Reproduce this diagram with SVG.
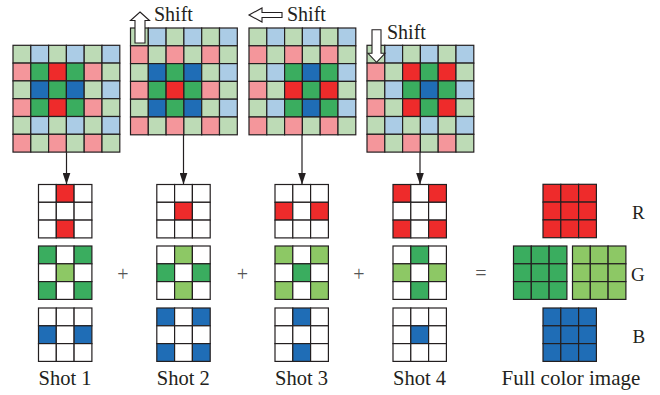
<svg xmlns="http://www.w3.org/2000/svg" xmlns:xlink="http://www.w3.org/1999/xlink" width="660" height="395" viewBox="0 0 660 395">
<style>
use{stroke:#231f20;stroke-width:1.2}
.a{fill:#bddbb6}.b{fill:#abcce6}.r{fill:#f4969b}
.G{fill:#3aad5f}.R{fill:#ee2b2b}.B{fill:#1f6db6}.L{fill:#8dc865}.w{fill:#ffffff}
.t{font-family:"Liberation Serif","Times New Roman",serif;fill:#231f20}
.op{font-family:"Liberation Serif","Times New Roman",serif;fill:#555555;font-size:20px;text-anchor:middle}
.sa{fill:#ffffff;stroke:#231f20;stroke-width:1.1}
.con line{stroke:#231f20;stroke-width:1.2;marker-end:url(#ah)}
</style>
<defs>
<rect id="c" width="17.8" height="17.8"/>
<marker id="ah" markerUnits="userSpaceOnUse" markerWidth="12" markerHeight="8" refX="12" refY="4" orient="auto"><path d="M0,0 L12,4 L0,8 z" fill="#231f20"/></marker>
</defs>
<rect width="660" height="395" fill="#ffffff"/>

<!-- Sensor grid 1 -->
<g id="sensor1" transform="translate(13,45.3)">
<use href="#c" x="0" y="0" class="a"/><use href="#c" x="17.8" y="0" class="b"/><use href="#c" x="35.6" y="0" class="a"/><use href="#c" x="53.4" y="0" class="b"/><use href="#c" x="71.2" y="0" class="a"/><use href="#c" x="89" y="0" class="b"/>
<use href="#c" x="0" y="17.8" class="r"/><use href="#c" x="17.8" y="17.8" class="G"/><use href="#c" x="35.6" y="17.8" class="R"/><use href="#c" x="53.4" y="17.8" class="G"/><use href="#c" x="71.2" y="17.8" class="r"/><use href="#c" x="89" y="17.8" class="a"/>
<use href="#c" x="0" y="35.6" class="a"/><use href="#c" x="17.8" y="35.6" class="B"/><use href="#c" x="35.6" y="35.6" class="G"/><use href="#c" x="53.4" y="35.6" class="B"/><use href="#c" x="71.2" y="35.6" class="a"/><use href="#c" x="89" y="35.6" class="b"/>
<use href="#c" x="0" y="53.4" class="r"/><use href="#c" x="17.8" y="53.4" class="G"/><use href="#c" x="35.6" y="53.4" class="R"/><use href="#c" x="53.4" y="53.4" class="G"/><use href="#c" x="71.2" y="53.4" class="r"/><use href="#c" x="89" y="53.4" class="a"/>
<use href="#c" x="0" y="71.2" class="a"/><use href="#c" x="17.8" y="71.2" class="b"/><use href="#c" x="35.6" y="71.2" class="a"/><use href="#c" x="53.4" y="71.2" class="b"/><use href="#c" x="71.2" y="71.2" class="a"/><use href="#c" x="89" y="71.2" class="b"/>
<use href="#c" x="0" y="89" class="r"/><use href="#c" x="17.8" y="89" class="a"/><use href="#c" x="35.6" y="89" class="r"/><use href="#c" x="53.4" y="89" class="a"/><use href="#c" x="71.2" y="89" class="r"/><use href="#c" x="89" y="89" class="a"/>
</g>

<!-- Sensor grid 2 -->
<g id="sensor2" transform="translate(130.5,28)">
<use href="#c" x="0" y="0" class="a"/><use href="#c" x="17.8" y="0" class="b"/><use href="#c" x="35.6" y="0" class="a"/><use href="#c" x="53.4" y="0" class="b"/><use href="#c" x="71.2" y="0" class="a"/><use href="#c" x="89" y="0" class="b"/>
<use href="#c" x="0" y="17.8" class="r"/><use href="#c" x="17.8" y="17.8" class="a"/><use href="#c" x="35.6" y="17.8" class="r"/><use href="#c" x="53.4" y="17.8" class="a"/><use href="#c" x="71.2" y="17.8" class="r"/><use href="#c" x="89" y="17.8" class="a"/>
<use href="#c" x="0" y="35.6" class="a"/><use href="#c" x="17.8" y="35.6" class="B"/><use href="#c" x="35.6" y="35.6" class="G"/><use href="#c" x="53.4" y="35.6" class="B"/><use href="#c" x="71.2" y="35.6" class="a"/><use href="#c" x="89" y="35.6" class="b"/>
<use href="#c" x="0" y="53.4" class="r"/><use href="#c" x="17.8" y="53.4" class="G"/><use href="#c" x="35.6" y="53.4" class="R"/><use href="#c" x="53.4" y="53.4" class="G"/><use href="#c" x="71.2" y="53.4" class="r"/><use href="#c" x="89" y="53.4" class="a"/>
<use href="#c" x="0" y="71.2" class="a"/><use href="#c" x="17.8" y="71.2" class="B"/><use href="#c" x="35.6" y="71.2" class="G"/><use href="#c" x="53.4" y="71.2" class="B"/><use href="#c" x="71.2" y="71.2" class="a"/><use href="#c" x="89" y="71.2" class="b"/>
<use href="#c" x="0" y="89" class="r"/><use href="#c" x="17.8" y="89" class="a"/><use href="#c" x="35.6" y="89" class="r"/><use href="#c" x="53.4" y="89" class="a"/><use href="#c" x="71.2" y="89" class="r"/><use href="#c" x="89" y="89" class="a"/>
<polygon class="sa" points="9.5,-16 19,-7.5 14.5,-7.5 14.5,15 4.5,15 4.5,-7.5 0,-7.5"/>
<text class="t" x="23.5" y="-7" font-size="20">Shift</text>
</g>

<!-- Sensor grid 3 -->
<g id="sensor3" transform="translate(249,28)">
<use href="#c" x="0" y="0" class="a"/><use href="#c" x="17.8" y="0" class="b"/><use href="#c" x="35.6" y="0" class="a"/><use href="#c" x="53.4" y="0" class="b"/><use href="#c" x="71.2" y="0" class="a"/><use href="#c" x="89" y="0" class="b"/>
<use href="#c" x="0" y="17.8" class="r"/><use href="#c" x="17.8" y="17.8" class="a"/><use href="#c" x="35.6" y="17.8" class="r"/><use href="#c" x="53.4" y="17.8" class="a"/><use href="#c" x="71.2" y="17.8" class="r"/><use href="#c" x="89" y="17.8" class="a"/>
<use href="#c" x="0" y="35.6" class="a"/><use href="#c" x="17.8" y="35.6" class="b"/><use href="#c" x="35.6" y="35.6" class="G"/><use href="#c" x="53.4" y="35.6" class="B"/><use href="#c" x="71.2" y="35.6" class="G"/><use href="#c" x="89" y="35.6" class="b"/>
<use href="#c" x="0" y="53.4" class="r"/><use href="#c" x="17.8" y="53.4" class="a"/><use href="#c" x="35.6" y="53.4" class="R"/><use href="#c" x="53.4" y="53.4" class="G"/><use href="#c" x="71.2" y="53.4" class="R"/><use href="#c" x="89" y="53.4" class="a"/>
<use href="#c" x="0" y="71.2" class="a"/><use href="#c" x="17.8" y="71.2" class="b"/><use href="#c" x="35.6" y="71.2" class="G"/><use href="#c" x="53.4" y="71.2" class="B"/><use href="#c" x="71.2" y="71.2" class="G"/><use href="#c" x="89" y="71.2" class="b"/>
<use href="#c" x="0" y="89" class="r"/><use href="#c" x="17.8" y="89" class="a"/><use href="#c" x="35.6" y="89" class="r"/><use href="#c" x="53.4" y="89" class="a"/><use href="#c" x="71.2" y="89" class="r"/><use href="#c" x="89" y="89" class="a"/>
<polygon class="sa" points="0,-13 13,-20 13,-15.5 33,-15.5 33,-10.5 13,-10.5 13,-6"/>
<text class="t" x="38" y="-7" font-size="20">Shift</text>
</g>

<!-- Sensor grid 4 -->
<g id="sensor4" transform="translate(367,45.3)">
<use href="#c" x="0" y="0" class="a"/><use href="#c" x="17.8" y="0" class="b"/><use href="#c" x="35.6" y="0" class="a"/><use href="#c" x="53.4" y="0" class="b"/><use href="#c" x="71.2" y="0" class="a"/><use href="#c" x="89" y="0" class="b"/>
<use href="#c" x="0" y="17.8" class="r"/><use href="#c" x="17.8" y="17.8" class="a"/><use href="#c" x="35.6" y="17.8" class="R"/><use href="#c" x="53.4" y="17.8" class="G"/><use href="#c" x="71.2" y="17.8" class="R"/><use href="#c" x="89" y="17.8" class="a"/>
<use href="#c" x="0" y="35.6" class="a"/><use href="#c" x="17.8" y="35.6" class="b"/><use href="#c" x="35.6" y="35.6" class="G"/><use href="#c" x="53.4" y="35.6" class="B"/><use href="#c" x="71.2" y="35.6" class="G"/><use href="#c" x="89" y="35.6" class="b"/>
<use href="#c" x="0" y="53.4" class="r"/><use href="#c" x="17.8" y="53.4" class="a"/><use href="#c" x="35.6" y="53.4" class="R"/><use href="#c" x="53.4" y="53.4" class="G"/><use href="#c" x="71.2" y="53.4" class="R"/><use href="#c" x="89" y="53.4" class="a"/>
<use href="#c" x="0" y="71.2" class="a"/><use href="#c" x="17.8" y="71.2" class="b"/><use href="#c" x="35.6" y="71.2" class="a"/><use href="#c" x="53.4" y="71.2" class="b"/><use href="#c" x="71.2" y="71.2" class="a"/><use href="#c" x="89" y="71.2" class="b"/>
<use href="#c" x="0" y="89" class="r"/><use href="#c" x="17.8" y="89" class="a"/><use href="#c" x="35.6" y="89" class="r"/><use href="#c" x="53.4" y="89" class="a"/><use href="#c" x="71.2" y="89" class="r"/><use href="#c" x="89" y="89" class="a"/>
<polygon class="sa" points="9.5,17 18,8 14,8 14,-15.5 5,-15.5 5,8 1,8"/>
<text class="t" x="20" y="-6.5" font-size="20">Shift</text>
</g>

<!-- Connectors -->
<g id="connectors" class="con">
<line x1="66.5" y1="152.4" x2="66.5" y2="184.5"/>
<line x1="183.5" y1="134.8" x2="183.5" y2="184.5"/>
<line x1="302" y1="134.8" x2="302" y2="184.5"/>
<line x1="420" y1="152.4" x2="420" y2="184.5"/>
</g>

<!-- Shot 1 -->
<g id="shot1" transform="translate(38.5,0)">
<g transform="translate(0,184.5)">
<use href="#c" x="0" y="0" class="w"/><use href="#c" x="17.8" y="0" class="R"/><use href="#c" x="35.6" y="0" class="w"/>
<use href="#c" x="0" y="17.8" class="w"/><use href="#c" x="17.8" y="17.8" class="w"/><use href="#c" x="35.6" y="17.8" class="w"/>
<use href="#c" x="0" y="35.6" class="w"/><use href="#c" x="17.8" y="35.6" class="R"/><use href="#c" x="35.6" y="35.6" class="w"/>
</g>
<g transform="translate(0,246)">
<use href="#c" x="0" y="0" class="G"/><use href="#c" x="17.8" y="0" class="w"/><use href="#c" x="35.6" y="0" class="G"/>
<use href="#c" x="0" y="17.8" class="w"/><use href="#c" x="17.8" y="17.8" class="L"/><use href="#c" x="35.6" y="17.8" class="w"/>
<use href="#c" x="0" y="35.6" class="G"/><use href="#c" x="17.8" y="35.6" class="w"/><use href="#c" x="35.6" y="35.6" class="G"/>
</g>
<g transform="translate(0,308)">
<use href="#c" x="0" y="0" class="w"/><use href="#c" x="17.8" y="0" class="w"/><use href="#c" x="35.6" y="0" class="w"/>
<use href="#c" x="0" y="17.8" class="B"/><use href="#c" x="17.8" y="17.8" class="w"/><use href="#c" x="35.6" y="17.8" class="B"/>
<use href="#c" x="0" y="35.6" class="w"/><use href="#c" x="17.8" y="35.6" class="w"/><use href="#c" x="35.6" y="35.6" class="w"/>
</g>
<text class="t" x="0" y="385" font-size="20.5">Shot 1</text>
</g>

<!-- Shot 2 -->
<g id="shot2" transform="translate(156.8,0)">
<g transform="translate(0,184.5)">
<use href="#c" x="0" y="0" class="w"/><use href="#c" x="17.8" y="0" class="w"/><use href="#c" x="35.6" y="0" class="w"/>
<use href="#c" x="0" y="17.8" class="w"/><use href="#c" x="17.8" y="17.8" class="R"/><use href="#c" x="35.6" y="17.8" class="w"/>
<use href="#c" x="0" y="35.6" class="w"/><use href="#c" x="17.8" y="35.6" class="w"/><use href="#c" x="35.6" y="35.6" class="w"/>
</g>
<g transform="translate(0,246)">
<use href="#c" x="0" y="0" class="w"/><use href="#c" x="17.8" y="0" class="L"/><use href="#c" x="35.6" y="0" class="w"/>
<use href="#c" x="0" y="17.8" class="G"/><use href="#c" x="17.8" y="17.8" class="w"/><use href="#c" x="35.6" y="17.8" class="G"/>
<use href="#c" x="0" y="35.6" class="w"/><use href="#c" x="17.8" y="35.6" class="L"/><use href="#c" x="35.6" y="35.6" class="w"/>
</g>
<g transform="translate(0,308)">
<use href="#c" x="0" y="0" class="B"/><use href="#c" x="17.8" y="0" class="w"/><use href="#c" x="35.6" y="0" class="B"/>
<use href="#c" x="0" y="17.8" class="w"/><use href="#c" x="17.8" y="17.8" class="w"/><use href="#c" x="35.6" y="17.8" class="w"/>
<use href="#c" x="0" y="35.6" class="B"/><use href="#c" x="17.8" y="35.6" class="w"/><use href="#c" x="35.6" y="35.6" class="B"/>
</g>
<text class="t" x="0" y="385" font-size="20.5">Shot 2</text>
</g>

<!-- Shot 3 -->
<g id="shot3" transform="translate(275,0)">
<g transform="translate(0,184.5)">
<use href="#c" x="0" y="0" class="w"/><use href="#c" x="17.8" y="0" class="w"/><use href="#c" x="35.6" y="0" class="w"/>
<use href="#c" x="0" y="17.8" class="R"/><use href="#c" x="17.8" y="17.8" class="w"/><use href="#c" x="35.6" y="17.8" class="R"/>
<use href="#c" x="0" y="35.6" class="w"/><use href="#c" x="17.8" y="35.6" class="w"/><use href="#c" x="35.6" y="35.6" class="w"/>
</g>
<g transform="translate(0,246)">
<use href="#c" x="0" y="0" class="L"/><use href="#c" x="17.8" y="0" class="w"/><use href="#c" x="35.6" y="0" class="L"/>
<use href="#c" x="0" y="17.8" class="w"/><use href="#c" x="17.8" y="17.8" class="G"/><use href="#c" x="35.6" y="17.8" class="w"/>
<use href="#c" x="0" y="35.6" class="L"/><use href="#c" x="17.8" y="35.6" class="w"/><use href="#c" x="35.6" y="35.6" class="L"/>
</g>
<g transform="translate(0,308)">
<use href="#c" x="0" y="0" class="w"/><use href="#c" x="17.8" y="0" class="B"/><use href="#c" x="35.6" y="0" class="w"/>
<use href="#c" x="0" y="17.8" class="w"/><use href="#c" x="17.8" y="17.8" class="w"/><use href="#c" x="35.6" y="17.8" class="w"/>
<use href="#c" x="0" y="35.6" class="w"/><use href="#c" x="17.8" y="35.6" class="B"/><use href="#c" x="35.6" y="35.6" class="w"/>
</g>
<text class="t" x="0" y="385" font-size="20.5">Shot 3</text>
</g>

<!-- Shot 4 -->
<g id="shot4" transform="translate(393,0)">
<g transform="translate(0,184.5)">
<use href="#c" x="0" y="0" class="R"/><use href="#c" x="17.8" y="0" class="w"/><use href="#c" x="35.6" y="0" class="R"/>
<use href="#c" x="0" y="17.8" class="w"/><use href="#c" x="17.8" y="17.8" class="w"/><use href="#c" x="35.6" y="17.8" class="w"/>
<use href="#c" x="0" y="35.6" class="R"/><use href="#c" x="17.8" y="35.6" class="w"/><use href="#c" x="35.6" y="35.6" class="R"/>
</g>
<g transform="translate(0,246)">
<use href="#c" x="0" y="0" class="w"/><use href="#c" x="17.8" y="0" class="G"/><use href="#c" x="35.6" y="0" class="w"/>
<use href="#c" x="0" y="17.8" class="L"/><use href="#c" x="17.8" y="17.8" class="w"/><use href="#c" x="35.6" y="17.8" class="L"/>
<use href="#c" x="0" y="35.6" class="w"/><use href="#c" x="17.8" y="35.6" class="G"/><use href="#c" x="35.6" y="35.6" class="w"/>
</g>
<g transform="translate(0,308)">
<use href="#c" x="0" y="0" class="w"/><use href="#c" x="17.8" y="0" class="w"/><use href="#c" x="35.6" y="0" class="w"/>
<use href="#c" x="0" y="17.8" class="w"/><use href="#c" x="17.8" y="17.8" class="B"/><use href="#c" x="35.6" y="17.8" class="w"/>
<use href="#c" x="0" y="35.6" class="w"/><use href="#c" x="17.8" y="35.6" class="w"/><use href="#c" x="35.6" y="35.6" class="w"/>
</g>
<text class="t" x="0" y="385" font-size="20.5">Shot 4</text>
</g>

<!-- Operators -->
<g id="operators">
<text class="op" x="123" y="281">+</text>
<text class="op" x="242.5" y="281">+</text>
<text class="op" x="359" y="281">+</text>
<text class="op" x="481" y="280">=</text>
</g>

<!-- Full color image -->
<g id="fullcolor">
<g transform="translate(543,184.3)">
<use href="#c" x="0" y="0" class="R"/><use href="#c" x="17.8" y="0" class="R"/><use href="#c" x="35.6" y="0" class="R"/>
<use href="#c" x="0" y="17.8" class="R"/><use href="#c" x="17.8" y="17.8" class="R"/><use href="#c" x="35.6" y="17.8" class="R"/>
<use href="#c" x="0" y="35.6" class="R"/><use href="#c" x="17.8" y="35.6" class="R"/><use href="#c" x="35.6" y="35.6" class="R"/>
</g>
<g transform="translate(513.5,246)">
<use href="#c" x="0" y="0" class="G"/><use href="#c" x="17.8" y="0" class="G"/><use href="#c" x="35.6" y="0" class="G"/>
<use href="#c" x="0" y="17.8" class="G"/><use href="#c" x="17.8" y="17.8" class="G"/><use href="#c" x="35.6" y="17.8" class="G"/>
<use href="#c" x="0" y="35.6" class="G"/><use href="#c" x="17.8" y="35.6" class="G"/><use href="#c" x="35.6" y="35.6" class="G"/>
</g>
<g transform="translate(572.5,246)">
<use href="#c" x="0" y="0" class="L"/><use href="#c" x="17.8" y="0" class="L"/><use href="#c" x="35.6" y="0" class="L"/>
<use href="#c" x="0" y="17.8" class="L"/><use href="#c" x="17.8" y="17.8" class="L"/><use href="#c" x="35.6" y="17.8" class="L"/>
<use href="#c" x="0" y="35.6" class="L"/><use href="#c" x="17.8" y="35.6" class="L"/><use href="#c" x="35.6" y="35.6" class="L"/>
</g>
<g transform="translate(543,308)">
<use href="#c" x="0" y="0" class="B"/><use href="#c" x="17.8" y="0" class="B"/><use href="#c" x="35.6" y="0" class="B"/>
<use href="#c" x="0" y="17.8" class="B"/><use href="#c" x="17.8" y="17.8" class="B"/><use href="#c" x="35.6" y="17.8" class="B"/>
<use href="#c" x="0" y="35.6" class="B"/><use href="#c" x="17.8" y="35.6" class="B"/><use href="#c" x="35.6" y="35.6" class="B"/>
</g>
<text class="t" x="632" y="219" font-size="19">R</text>
<text class="t" x="631" y="281" font-size="19">G</text>
<text class="t" x="632.5" y="343" font-size="19">B</text>
<text class="t" x="501.5" y="385" font-size="21">Full color image</text>
</g>
</svg>
